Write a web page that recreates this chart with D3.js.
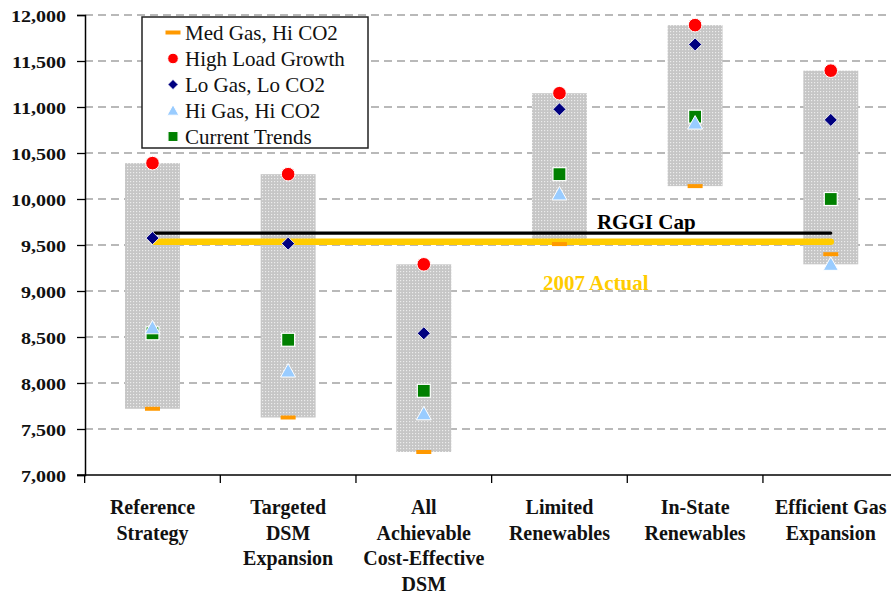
<!DOCTYPE html>
<html>
<head>
<meta charset="utf-8">
<script src="https://cdn.jsdelivr.net/npm/d3@7/dist/d3.min.js"></script>
<style>
  html, body { margin: 0; padding: 0; background: #fff; overflow: hidden; }
  svg { display: block; }
  svg text { font-family: "Liberation Serif", "Times New Roman", "Liberation Sans", sans-serif; }
</style>
</head>
<body>
<svg id="chart" width="891" height="594"></svg>
<script>
// Strategy categories (label lines)
const categories = [
  ["Reference", "Strategy"],
  ["Targeted", "DSM", "Expansion"],
  ["All", "Achievable", "Cost-Effective", "DSM"],
  ["Limited", "Renewables"],
  ["In-State", "Renewables"],
  ["Efficient Gas", "Expansion"]
];

// Scenario results per strategy
const medGasHiCO2    = [7720, 7625, 7250, 9510, 10140, 9400];
const highLoadGrowth = [10390, 10270, 9290, 11150, 11890, 11395];
const loGasLoCO2     = [9575, 9515, 8540, 10975, 11680, 10860];
const hiGasHiCO2     = [8600, 8130, 7665, 10055, 10825, 9290];
const currentTrends  = [8540, 8470, 7915, 10270, 10895, 10000];

// Reference levels
const rggiCap = 9630;
const actual2007 = 9535;

// Y axis ticks
const yTicks = [7000, 7500, 8000, 8500, 9000, 9500, 10000, 10500, 11000, 11500, 12000];

const svg = d3.select("#chart");

const x = d3.scaleBand()
  .domain(d3.range(categories.length))
  .range([84.65, 898.6])
  .paddingInner(0).paddingOuter(0);
const y = d3.scaleLinear().domain([7000, 12000]).range([475, 15]);
const cx = i => x(i) + x.bandwidth() / 2;
const barW = x.bandwidth() * 0.405;

// Stippled fill for the range bars
const defs = svg.append("defs");
const pat = defs.append("pattern")
  .attr("id", "stipple").attr("patternUnits", "userSpaceOnUse")
  .attr("width", 3).attr("height", 3);
pat.append("rect").attr("width", 3).attr("height", 3).attr("fill", "#c6c6c6");
pat.append("rect").attr("x", 1).attr("y", 1).attr("width", 1.2).attr("height", 1.2).attr("fill", "#ececec");

// Dashed gridlines
svg.append("g").selectAll("line")
  .data(yTicks.filter(t => t > 7000))
  .join("line")
  .attr("x1", 85).attr("x2", 891)
  .attr("y1", d => y(d)).attr("y2", d => y(d))
  .attr("stroke", "#a3a3a3").attr("stroke-width", 1.4)
  .attr("stroke-dasharray", "8,5");

// Range bars: min to max over all scenarios
const series = [medGasHiCO2, highLoadGrowth, loGasLoCO2, hiGasHiCO2, currentTrends];
const ranges = categories.map((c, i) => {
  const vals = series.map(s => s[i]);
  return { i, lo: d3.min(vals), hi: d3.max(vals) };
});
svg.append("g").selectAll("rect")
  .data(ranges)
  .join("rect")
  .attr("x", d => cx(d.i) - barW / 2)
  .attr("width", barW)
  .attr("y", d => y(d.hi))
  .attr("height", d => y(d.lo) - y(d.hi))
  .attr("fill", "url(#stipple)");

// Axes
const yAxis = svg.append("g")
  .attr("transform", "translate(85,0)")
  .call(d3.axisLeft(y).tickValues(yTicks).tickSize(8).tickFormat(d3.format(",")));
yAxis.attr("font-family", null).attr("font-size", null);
yAxis.select(".domain").attr("stroke", "#000").attr("stroke-width", 1.5);
yAxis.selectAll(".tick line").attr("stroke", "#000").attr("stroke-width", 1.3);
yAxis.selectAll(".tick text").remove();
yAxis.selectAll(".tick").append("text")
  .attr("text-anchor", "end")
  .attr("transform", "translate(-19,0) scale(1.18,1)")
  .attr("dy", "0.36em")
  .attr("fill", "#111")
  .style("font-weight", "bold").style("font-size", "17px")
  .text(d => d3.format(",")(d));

const xAxis = svg.append("g")
  .attr("transform", "translate(0,475)");
xAxis.append("line")
  .attr("x1", 77).attr("x2", 891).attr("y1", 0).attr("y2", 0)
  .attr("stroke", "#000").attr("stroke-width", 1.5);
xAxis.selectAll("line.tk")
  .data(d3.range(categories.length))
  .join("line").attr("class", "tk")
  .attr("x1", d => x(d)).attr("x2", d => x(d))
  .attr("y1", 0).attr("y2", 8)
  .attr("stroke", "#000").attr("stroke-width", 1.3);

const catLabels = svg.append("g");
categories.forEach((lines, i) => {
  const t = catLabels.append("text")
    .attr("text-anchor", "middle")
    .attr("fill", "#111")
    .style("font-weight", "bold").style("font-size", "20px");
  lines.forEach((ln, k) => {
    t.append("tspan").attr("x", cx(i)).attr("y", 514 + k * 25.5).text(ln);
  });
});

// RGGI cap and 2007 actual lines
const xStart = cx(0) + 2, xEnd = cx(categories.length - 1);
svg.append("line")
  .attr("x1", xStart).attr("x2", xEnd)
  .attr("y1", y(rggiCap)).attr("y2", y(rggiCap))
  .attr("stroke", "#000").attr("stroke-width", 3.2).attr("stroke-linecap", "round");
svg.append("line")
  .attr("x1", xStart).attr("x2", xEnd)
  .attr("y1", y(actual2007)).attr("y2", y(actual2007))
  .attr("stroke", "#ffcc00").attr("stroke-width", 6.5).attr("stroke-linecap", "round");

svg.append("text")
  .attr("x", cx(3) + 37.5).attr("y", y(rggiCap) - 4)
  .attr("fill", "#000")
  .style("font-weight", "bold").style("font-size", "21px")
  .text("RGGI Cap");
svg.append("text")
  .attr("x", cx(3) - 16.5).attr("y", y(actual2007) + 48)
  .attr("fill", "#ffcc00")
  .style("font-weight", "bold").style("font-size", "21px")
  .text("2007 Actual");

// Scenario markers
const sym = {
  dash: (g, s) => g.append("rect").attr("x", -7.5 * s).attr("y", -2 * s).attr("width", 15 * s).attr("height", 4 * s)
    .attr("fill", "#ff9900"),
  circle: (g, s) => g.append("circle").attr("r", 6.8 * s).attr("fill", "#ff0000")
    .attr("stroke", "#fff").attr("stroke-width", 1),
  diamond: (g, s) => g.append("path").attr("d", `M0,${-6.5 * s}L${6.5 * s},0L0,${6.5 * s}L${-6.5 * s},0Z`)
    .attr("fill", "#000080").attr("stroke", "#fff").attr("stroke-width", 0.8),
  triangle: (g, s) => g.append("path").attr("d", `M0,${-7.5 * s}L${7.5 * s},${6 * s}L${-7.5 * s},${6 * s}Z`)
    .attr("fill", "#99ccff").attr("stroke", "#fff").attr("stroke-width", 1),
  square: (g, s) => g.append("rect").attr("x", -6.5 * s).attr("y", -6.5 * s).attr("width", 13 * s).attr("height", 13 * s)
    .attr("fill", "#008000").attr("stroke", "#fff").attr("stroke-width", 1.2)
};

const layers = [
  { name: "Med Gas, Hi CO2", data: medGasHiCO2, shape: "dash" },
  { name: "Current Trends", data: currentTrends, shape: "square" },
  { name: "Hi Gas, Hi CO2", data: hiGasHiCO2, shape: "triangle" },
  { name: "Lo Gas, Lo CO2", data: loGasLoCO2, shape: "diamond" },
  { name: "High Load Growth", data: highLoadGrowth, shape: "circle" }
];
layers.forEach(L => {
  svg.append("g").selectAll("g")
    .data(L.data)
    .join("g")
    .attr("transform", (d, i) => `translate(${cx(i)},${y(d)})`)
    .each(function () { sym[L.shape](d3.select(this), 1); });
});

// Legend
const legendItems = [
  { name: "Med Gas, Hi CO2", shape: "dash" },
  { name: "High Load Growth", shape: "circle" },
  { name: "Lo Gas, Lo CO2", shape: "diamond" },
  { name: "Hi Gas, Hi CO2", shape: "triangle" },
  { name: "Current Trends", shape: "square" }
];
const lg = svg.append("g").attr("transform", "translate(142,17)");
lg.append("rect").attr("width", 226).attr("height", 131)
  .attr("fill", "#fff").attr("stroke", "#222").attr("stroke-width", 1.5);
legendItems.forEach((it, k) => {
  const row = lg.append("g").attr("transform", `translate(31,${15.5 + k * 26})`);
  sym[it.shape](row, it.shape === "dash" ? 1 : 0.78);
  row.append("text").attr("x", 12).attr("y", 7)
    .attr("fill", "#111")
    .style("font-size", "21px")
    .text(it.name);
});
</script>
</body>
</html>
